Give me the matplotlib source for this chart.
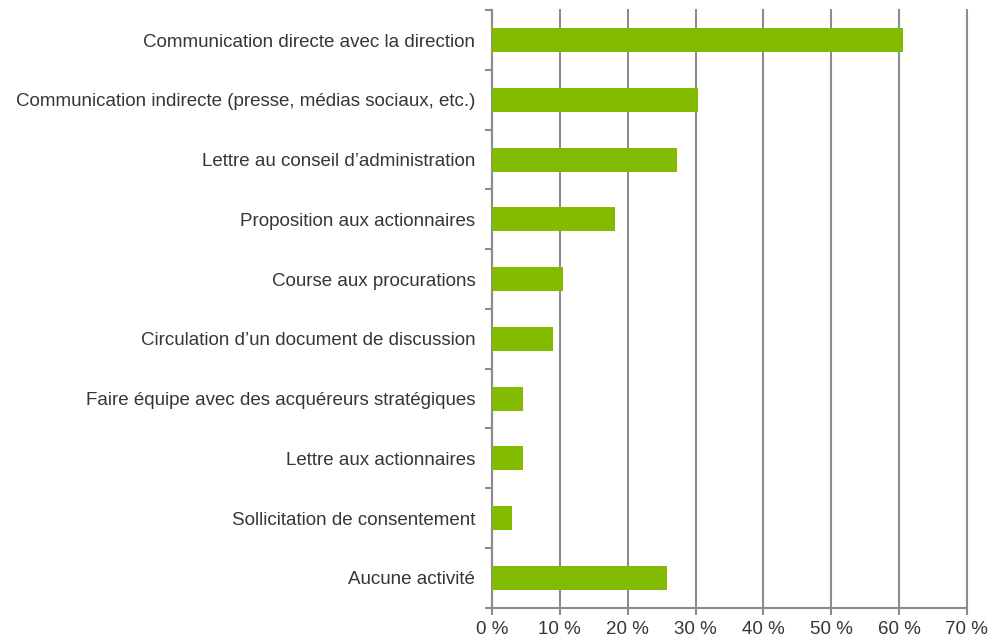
import numpy as np
import matplotlib.pyplot as plt
from matplotlib.ticker import FixedLocator

# survey categories, top to bottom
categories = [
    "Communication directe avec la direction",
    "Communication indirecte (presse, médias sociaux, etc.)",
    "Lettre au conseil d\u2019administration",
    "Proposition aux actionnaires",
    "Course aux procurations",
    "Circulation d\u2019un document de discussion",
    "Faire équipe avec des acquéreurs stratégiques",
    "Lettre aux actionnaires",
    "Sollicitation de consentement",
    "Aucune activité",
]
# share of respondents (%)
values = [60.6, 30.3, 27.2, 18.2, 10.5, 9.0, 4.5, 4.5, 3.0, 25.8]
xtick_values = [0, 10, 20, 30, 40, 50, 60, 70]
xtick_labels = [f"{v} %" for v in xtick_values]

plt.rcParams["font.family"] = ["Liberation Sans", "DejaVu Sans"]

bar_color = "#82BB00"
grid_color = "#8C8C8C"
text_color = "#363636"

fig = plt.figure(figsize=(10.03, 6.39), dpi=100)
ax = fig.add_axes([0.4905, 0.049, 0.4735, 0.935])

n = len(categories)
y = np.arange(n)[::-1]

ax.barh(y, values, height=0.4, color=bar_color, zorder=3)

ax.set_xlim(0, 70)
ax.set_ylim(-0.5, n - 0.5)

ax.set_xticks(xtick_values)
ax.set_xticklabels(xtick_labels, fontsize=13.5, color=text_color)

# labels at bar centres, tick marks at category boundaries
ax.set_yticks(y)
ax.set_yticklabels(categories, fontsize=13.5, color=text_color)
ax.yaxis.set_minor_locator(FixedLocator(np.arange(-0.5, n, 1.0)))
ax.tick_params(axis="y", which="major", length=0, pad=12)
ax.tick_params(axis="y", which="minor", length=5, width=1.5, color=grid_color)
ax.tick_params(axis="x", length=5, width=1.5, color=grid_color, pad=4.5)

ax.grid(axis="x", color=grid_color, linewidth=1.5, zorder=0)
for gl in ax.get_xgridlines():
    gl.set_clip_on(False)
ax.set_axisbelow(True)

for side in ["top", "right"]:
    ax.spines[side].set_visible(False)
for side in ["left", "bottom"]:
    ax.spines[side].set_color(grid_color)
    ax.spines[side].set_linewidth(1.5)

fig.savefig("out.png", dpi=100)
